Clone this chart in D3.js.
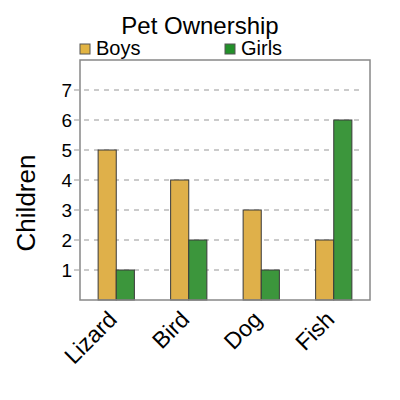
<!DOCTYPE html>
<html>
<head>
<meta charset="utf-8">
<script src="https://cdn.jsdelivr.net/npm/d3@7"></script>
<style>
  body { margin: 0; background: #fff; }
  text { font-family: "Liberation Sans", Arial, sans-serif; fill: #000; }
</style>
</head>
<body>
<script>
  // data
  const pets = ["Lizard", "Bird", "Dog", "Fish"];
  const series = ["Boys", "Girls"];
  const boys = [5, 4, 3, 2];
  const girls = [1, 2, 1, 6];
  const yTicks = [1, 2, 3, 4, 5, 6, 7];

  const barColors = {Boys: "#dfb04a", Girls: "#3c963c"};
  const keyColors = {Boys: "#e2b443", Girls: "#22902a"};

  const W = 400, H = 400;
  const margin = {left: 80, top: 60, right: 30, bottom: 100};
  const width = W - margin.left - margin.right;
  const height = H - margin.top - margin.bottom;

  const svg = d3.select("body").append("svg")
    .attr("width", W)
    .attr("height", H);

  const g = svg.append("g")
    .attr("transform", `translate(${margin.left},${margin.top})`);

  // scales
  const x0 = d3.scaleBand().domain(pets).range([0, width]);
  const x1 = d3.scaleBand().domain(series).range([x0.bandwidth() / 4, x0.bandwidth() * 3 / 4]);
  const y = d3.scaleLinear().domain([0, 8]).range([height, 0]);

  // grid lines
  g.append("g").selectAll("line")
    .data(yTicks)
    .enter().append("line")
    .attr("x1", -6)
    .attr("x2", width - 10)
    .attr("y1", d => y(d))
    .attr("y2", d => y(d))
    .attr("stroke", "#bbb")
    .attr("stroke-width", 1.5)
    .attr("stroke-dasharray", "5,5");

  // y axis labels
  const yAxis = d3.axisLeft(y).tickValues(yTicks).tickSize(0).tickPadding(8);
  const ya = g.append("g").call(yAxis);
  ya.select(".domain").remove();
  ya.selectAll("text")
    .attr("font-size", "19px")
    .style("font-family", "Liberation Sans, Arial, sans-serif")
    .attr("fill", "#000");

  // bars
  const rows = pets.map((p, i) => ({pet: p, Boys: boys[i], Girls: girls[i]}));
  g.append("g").selectAll("g")
    .data(rows)
    .enter().append("g")
    .attr("transform", d => `translate(${x0(d.pet)},0)`)
    .selectAll("rect")
    .data(d => series.map(s => ({key: s, value: d[s]})))
    .enter().append("rect")
    .attr("x", d => x1(d.key))
    .attr("y", d => y(d.value))
    .attr("width", x1.bandwidth())
    .attr("height", d => height - y(d.value))
    .attr("fill", d => barColors[d.key])
    .attr("stroke", "#3a3a3a")
    .attr("stroke-width", 1);

  // frame
  g.append("rect")
    .attr("x", 0).attr("y", 0)
    .attr("width", width).attr("height", height)
    .attr("fill", "none")
    .attr("stroke", "#888")
    .attr("stroke-width", 1.5);

  // x axis
  const xa = g.append("g")
    .attr("transform", `translate(0,${height})`)
    .call(d3.axisBottom(x0).tickSize(0).tickPadding(0));
  xa.select(".domain").remove();
  xa.selectAll("text")
    .attr("font-size", "23px")
    .style("font-family", "Liberation Sans, Arial, sans-serif")
    .attr("fill", "#000")
    .attr("text-anchor", "end")
    .attr("y", 0)
    .attr("dy", 0)
    .attr("transform", "translate(2,21) rotate(-45)");

  // axis title
  svg.append("text")
    .attr("transform", "translate(35,203) rotate(-90)")
    .attr("text-anchor", "middle")
    .attr("font-size", "26px")
    .text("Children");

  // chart title
  svg.append("text")
    .attr("x", 200)
    .attr("y", 34)
    .attr("text-anchor", "middle")
    .attr("font-size", "24px")
    .text("Pet Ownership");

  // legend
  const legendX = [80, 225];
  const lg = svg.append("g").selectAll("g")
    .data(series)
    .enter().append("g")
    .attr("transform", (d, i) => `translate(${legendX[i]},44)`);
  lg.append("rect")
    .attr("width", 10).attr("height", 10)
    .attr("fill", d => keyColors[d])
    .attr("stroke", "#555")
    .attr("stroke-width", 1);
  lg.append("text")
    .attr("x", 16)
    .attr("y", 10.5)
    .attr("font-size", "20px")
    .text(d => d);
</script>
</body>
</html>
